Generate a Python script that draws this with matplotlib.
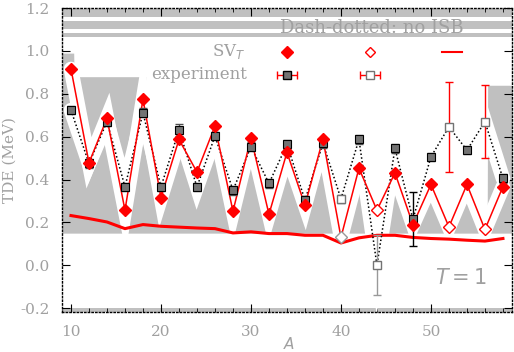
import numpy as np
import matplotlib
matplotlib.use("Agg")
import matplotlib.pyplot as plt
from matplotlib.ticker import MultipleLocator, FormatStrFormatter

# ---------------- data ----------------
A = list(range(10, 59, 2))
sv_t = [0.916, 0.478, 0.686, 0.257, 0.774, 0.316, 0.587, 0.435, 0.650, 0.252,
        0.595, 0.238, 0.527, 0.280, 0.589, 0.130, 0.453, 0.257, 0.431, 0.190,
        0.377, 0.179, 0.377, 0.167, 0.367]
experiment = [0.724, 0.475, 0.670, 0.366, 0.712, 0.366, 0.631, 0.366, 0.603, 0.350,
              0.553, 0.382, 0.564, 0.304, 0.569, 0.310, 0.587, 0.000, 0.545, 0.215,
              0.506, 0.646, 0.537, 0.670, 0.405]
exp_err = [0.02, 0.02, 0.02, 0.02, 0.02, 0.02, 0.03, 0.02, 0.02, 0.02,
           0.02, 0.02, 0.02, 0.02, 0.02, 0.02, 0.02, 0.14, 0.02, 0.125,
           0.02, 0.21, 0.02, 0.17, 0.02]
open_mark = [False] * 15 + [True, False, True, False, False, False, True, False, True, False]
smooth = [0.232, 0.218, 0.202, 0.171, 0.190, 0.182, 0.178, 0.174, 0.171, 0.151,
          0.156, 0.148, 0.148, 0.140, 0.140, 0.104, 0.128, 0.140, 0.140, 0.130,
          0.125, 0.122, 0.117, 0.113, 0.125]

xticks = [10, 20, 30, 40, 50]
yticks = [-0.2, 0.0, 0.2, 0.4, 0.6, 0.8, 1.0, 1.2]

A_arr = np.array(A, dtype=float)
sv_arr = np.array(sv_t)
ex_arr = np.array(experiment)
err_arr = np.array(exp_err)
op_arr = np.array(open_mark)

GRAY = "#c0c0c0"
TXT = "#a0a0a0"

fig = plt.figure(figsize=(5.14, 3.52), dpi=100)
ax = fig.add_axes([0.1206, 0.1136, 0.8754, 0.8634])
ax.set_xlim(9, 59)
ax.set_ylim(-0.218, 1.2)

# --------- gray background bands (decorative) ---------
ax.axhspan(1.159, 1.196, color=GRAY, lw=0, zorder=0)
ax.axhspan(1.103, 1.140, color=GRAY, lw=0, zorder=0)
ax.axhspan(1.065, 1.084, color=GRAY, lw=0, zorder=0)
ax.axhspan(-0.218, -0.201, color=GRAY, lw=0, zorder=0)

# --------- gray envelope with white halos around curves ---------
xd = np.linspace(9, 59, 1001)
env = np.interp(xd, A_arr, sv_arr)
env = np.where(xd < 10.35, 0.99, env)
env = np.where((xd >= 10.35) & (xd <= 18.3), 0.88, env)
env = np.where(xd > 56.3, 0.84, env)
ax.fill_between(xd, 0.150, env, color=GRAY, lw=0, zorder=1)
ax.plot(A_arr, sv_arr, color="white", lw=10.5, solid_capstyle="round",
        solid_joinstyle="miter", zorder=2)
ax.plot(A_arr, ex_arr, color="white", lw=10.5, solid_capstyle="round",
        solid_joinstyle="miter", zorder=2)

# --------- curves ---------
ax.plot(A_arr, smooth, color="red", lw=2.2, zorder=3)
ax.plot(A_arr, ex_arr, color="black", lw=1.1, ls=(0, (1, 1.5)), zorder=4)
ax.plot(A_arr, sv_arr, color="red", lw=1.1, zorder=5)

# experiment markers + error bars
for a, v, e, o in zip(A_arr, ex_arr, err_arr, op_arr):
    ecol = "red" if (o and e > 0.1) else ("black" if e > 0.1 else "0.3")
    if o and v < 0.1:
        ecol = "0.6"
    ax.errorbar(a, v, yerr=e, fmt="none", ecolor=ecol, elinewidth=1.0,
                capsize=3, capthick=1.0, zorder=6, ls=":" if o else "-")
    if o:
        ax.plot(a, v, marker="s", ms=6, mfc="white", mec="0.45", mew=1.0, zorder=7)
    else:
        ax.plot(a, v, marker="s", ms=6, mfc="0.45", mec="black", mew=0.8, zorder=7)

# SV_T markers
sv_open_col = ["0.6" if v < 0.15 else "red" for v in sv_arr[op_arr]]
ax.plot(A_arr[~op_arr], sv_arr[~op_arr], ls="none", marker="D", ms=6.5,
        mfc="red", mec="red", zorder=8)
for a, v, c in zip(A_arr[op_arr], sv_arr[op_arr], sv_open_col):
    ax.plot(a, v, ls="none", marker="D", ms=6, mfc="white", mec=c, mew=1.0, zorder=8)

# --------- legend-like annotations ---------
tr = ax.transAxes
ax.text(0.689, 0.934, "Dash-dotted: no ISB", transform=tr, ha="center", va="center",
        fontsize=13, color=TXT, family="DejaVu Serif", zorder=10)
ax.text(0.407, 0.856, r"SV$_T$", transform=tr, ha="right", va="center",
        fontsize=12, color=TXT, family="DejaVu Serif", zorder=10)
ax.text(0.411, 0.780, "experiment", transform=tr, ha="right", va="center",
        fontsize=12, color=TXT, family="DejaVu Serif", zorder=10)
ax.plot([0.5], [0.856], transform=tr, marker="D", ms=6.5, mfc="red", mec="red",
        zorder=10, clip_on=False)
ax.plot([0.684], [0.856], transform=tr, marker="D", ms=5, mfc="white", mec="red",
        zorder=10, clip_on=False)
ax.plot([0.844, 0.889], [0.856, 0.856], transform=tr, color="red", lw=1.5, zorder=10)
ax.errorbar([0.5], [0.780], xerr=[0.022], transform=tr, fmt="s", ms=6, mfc="0.45",
            mec="black", ecolor="red", elinewidth=1, capsize=3, zorder=10)
ax.errorbar([0.684], [0.780], xerr=[0.022], transform=tr, fmt="s", ms=6, mfc="white",
            mec="0.45", ecolor="red", elinewidth=1, capsize=3, zorder=10)
ax.text(0.887, 0.112, r"$T = 1$", transform=tr, ha="center", va="center",
        fontsize=15, color=TXT, zorder=10)

# --------- axes styling ---------
for s in ax.spines.values():
    s.set_linestyle(":")
    s.set_color("black")
    s.set_linewidth(1.0)
    s.set_zorder(11)
ax.set_xticks(xticks)
ax.set_yticks(yticks)
ax.xaxis.set_minor_locator(MultipleLocator(2))
ax.yaxis.set_major_formatter(FormatStrFormatter("%.1f"))
ax.tick_params(which="both", direction="in", top=True, right=True, color="black",
               labelcolor=TXT, labelsize=11)
ax.tick_params(which="major", length=6, pad=9)
ax.tick_params(which="minor", length=3)
for lab in ax.get_xticklabels() + ax.get_yticklabels():
    lab.set_family("DejaVu Serif")

ax.set_xlabel(r"$A$", fontsize=11, color=TXT)
ax.xaxis.set_label_coords(0.504, -0.078)
ax.set_ylabel("TDE (MeV)", fontsize=11, color=TXT, family="DejaVu Serif")
ax.yaxis.set_label_coords(-0.100, 0.5)

fig.savefig("out.png", dpi=100)
